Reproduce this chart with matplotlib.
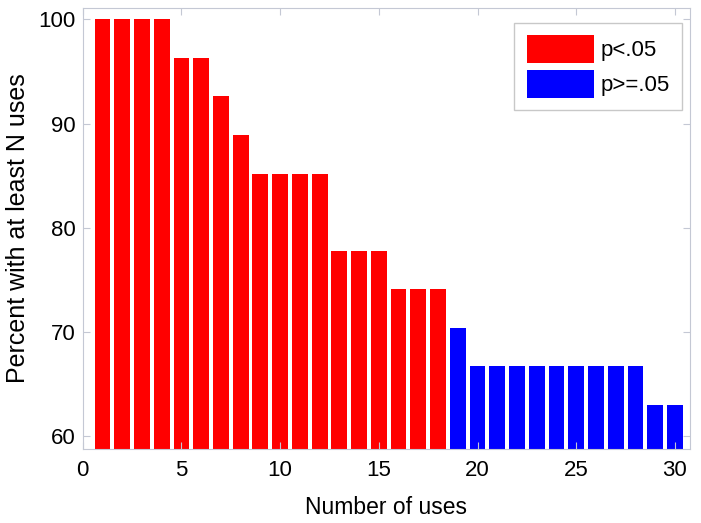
import matplotlib.pyplot as plt
import numpy as np

plt.rcParams['font.family'] = ['Liberation Sans Narrow', 'Liberation Sans', 'DejaVu Sans']

uses = np.arange(1, 31)
percent = [100, 100, 100, 100, 96.3, 96.3, 92.6, 88.9, 85.2, 85.2,
           85.2, 85.2, 77.8, 77.8, 77.8, 74.1, 74.1, 74.1, 70.4, 66.7,
           66.7, 66.7, 66.7, 66.7, 66.7, 66.7, 66.7, 66.7, 63.0, 63.0]
n_sig = 18  # first 18 bars p<.05

fig = plt.figure(figsize=(7.01, 5.23), dpi=100)
ax = fig.add_axes([0.118, 0.142, 0.866, 0.843])

bottom = 58.8
ax.bar(uses[:n_sig], np.array(percent[:n_sig]) - bottom, bottom=bottom,
       width=0.8, color='#ff0000', label='p<.05')
ax.bar(uses[n_sig:], np.array(percent[n_sig:]) - bottom, bottom=bottom,
       width=0.8, color='#0000ff', label='p>=.05')

ax.set_xlim(0, 30.75)
ax.set_ylim(bottom, 101.1)
ax.set_xticks([0, 5, 10, 15, 20, 25, 30])
ax.set_yticks([60, 70, 80, 90, 100])
ax.tick_params(direction='in', length=5, color='#c4c8d4', labelsize=16,
               top=True, right=True)
ax.tick_params(axis='x', pad=8)
ax.tick_params(axis='y', pad=5)
for s in ax.spines.values():
    s.set_color('#c4c8d4')

ax.set_xlabel('Number of uses', fontsize=16.5, labelpad=11)
ax.set_ylabel('Percent with at least N uses', fontsize=18, labelpad=6)

leg = ax.legend(loc='upper right', bbox_to_anchor=(0.988, 0.966),
                fontsize=16, handlelength=3.05, handleheight=1.56,
                handletextpad=0.3, labelspacing=0.3, borderpad=0.55,
                fancybox=False, borderaxespad=0, edgecolor='#c8c8c8',
                framealpha=1)

fig.savefig('out.png', dpi=100)
